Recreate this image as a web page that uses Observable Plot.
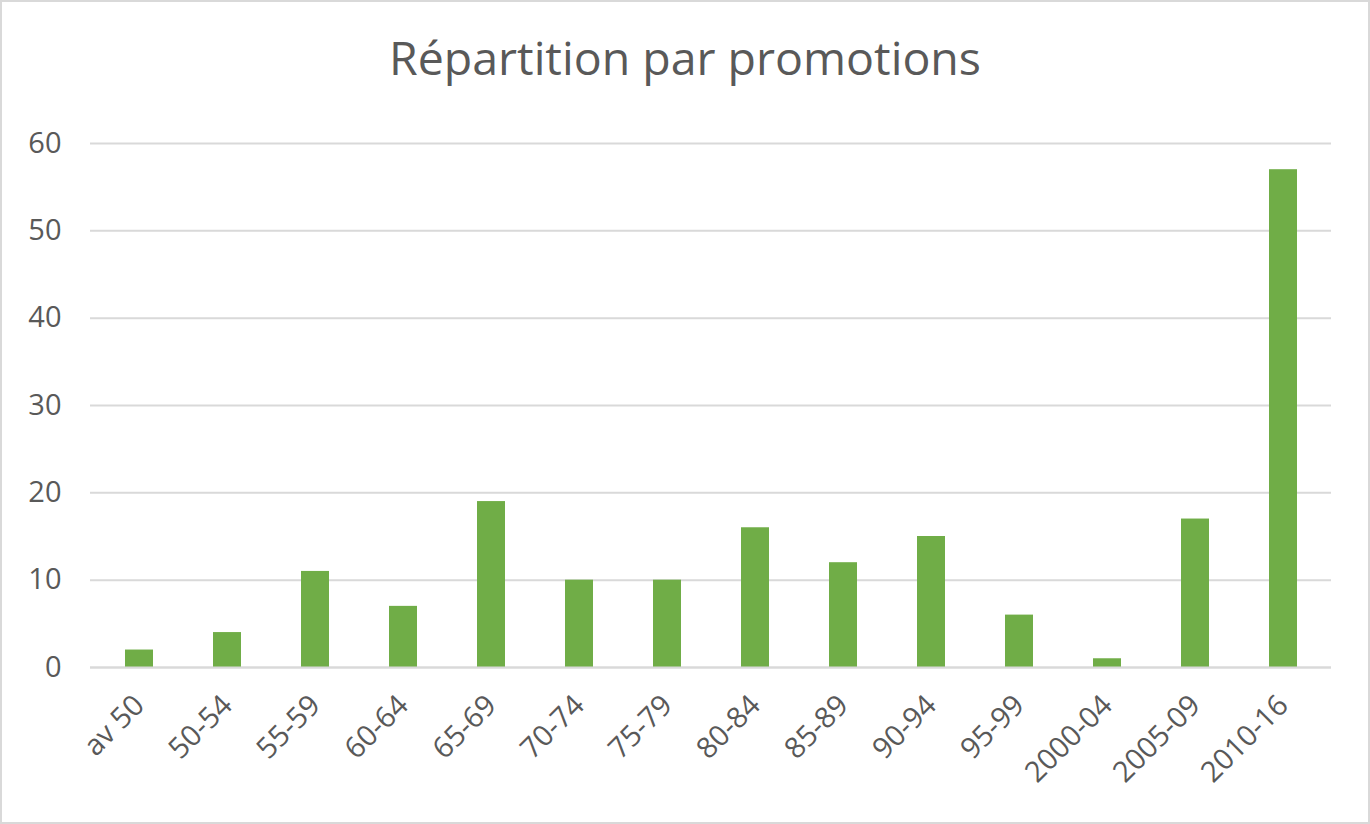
<!DOCTYPE html>
<html>
<head>
<meta charset="utf-8">
<script src="https://cdn.jsdelivr.net/npm/d3@7"></script>
<script src="https://cdn.jsdelivr.net/npm/@observablehq/plot@0.6"></script>
<style>
  html, body { margin: 0; padding: 0; background: #fff; }
  #wrap { position: relative; width: 1370px; height: 824px; overflow: hidden; font-family: "Open Sans", sans-serif; }
  #title { height: 110px; line-height: 114px; text-align: center; color: #595959; font-size: 46.5px; }
  #frame { position: absolute; left: 0; top: 0; width: 1370px; height: 824px; box-sizing: border-box; border: 2px solid #d9d9d9; pointer-events: none; }
  svg { display: block; }
  #chart svg text { font-size: 29px !important; fill: #595959; }
</style>
</head>
<body>
<div id="wrap">
  <div id="title">Répartition par promotions</div>
  <div id="chart"></div>
  <div id="frame"></div>
</div>
<script>
const categories = ["av 50", "50-54", "55-59", "60-64", "65-69", "70-74", "75-79", "80-84", "85-89", "90-94", "95-99", "2000-04", "2005-09", "2010-16"];
const values = [2, 4, 11, 7, 19, 10, 10, 16, 12, 15, 6, 1, 17, 57];
const yTicks = [0, 10, 20, 30, 40, 50, 60];

const data = categories.map((c, i) => ({cat: c, val: values[i]}));

const chart = Plot.plot({
  width: 1370,
  height: 714,
  marginTop: 33,
  marginBottom: 157,
  marginLeft: 90,
  marginRight: 39,
  style: {fontFamily: "'Open Sans', sans-serif", color: "#595959", background: "transparent"},
  x: {domain: categories, paddingInner: 0.684, paddingOuter: 0.342},
  y: {domain: [0, 60]},
  marks: [
    Plot.gridY(yTicks, {stroke: "#d9d9d9", strokeOpacity: 1, strokeWidth: 2}),
    Plot.barY(data, {x: "cat", y: "val", fill: "#70AD47"}),
    Plot.ruleY([0], {stroke: "#d9d9d9", strokeWidth: 2}),
    Plot.axisX({label: null, tickSize: 0, tickPadding: 33, tickRotate: -45, fontSize: 29, fill: "#595959"}),
    Plot.axisY(yTicks, {label: null, tickSize: 0, tickPadding: 29, fontSize: 29, fill: "#595959"})
  ]
});
document.getElementById("chart").appendChild(chart);
</script>
</body>
</html>
